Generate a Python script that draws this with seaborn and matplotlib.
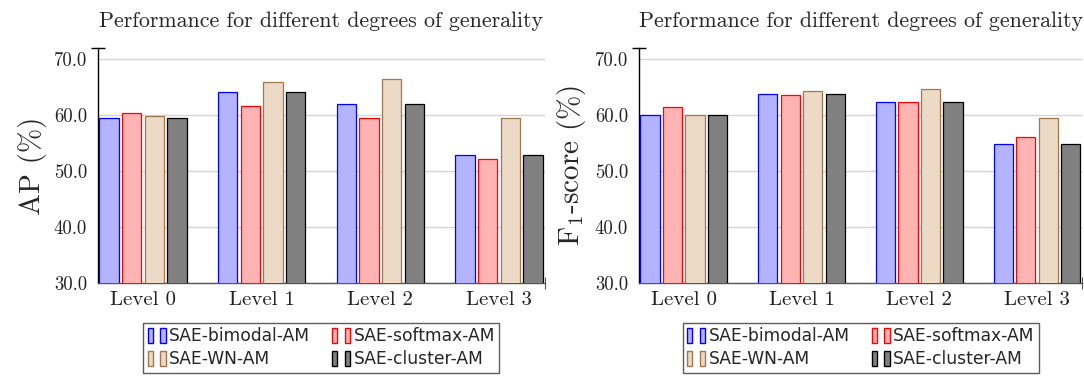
import matplotlib
matplotlib.use("Agg")
import matplotlib.pyplot as plt
import seaborn as sns
import pandas as pd
from matplotlib.patches import Patch
from matplotlib.legend_handler import HandlerTuple

levels = ["Level 0", "Level 1", "Level 2", "Level 3"]
methods = ["SAE-bimodal-AM", "SAE-softmax-AM", "SAE-WN-AM", "SAE-cluster-AM"]
ap_bimodal = [59.5, 64.0, 62.0, 52.9]
ap_softmax = [60.3, 61.5, 59.5, 52.1]
ap_wn = [59.8, 65.8, 66.4, 59.5]
ap_cluster = [59.5, 64.0, 62.0, 52.9]
f1_bimodal = [59.9, 63.7, 62.3, 54.8]
f1_softmax = [61.3, 63.5, 62.3, 56.0]
f1_wn = [59.9, 64.3, 64.6, 59.4]
f1_cluster = [59.9, 63.7, 62.3, 54.8]
yticks = [30, 40, 50, 60, 70]
title = "Performance for different degrees of generality"

fills = ["#b3b3ff", "#ffb3b3", "#ecd9c6", "#808080"]
edges = ["#0000ff", "#ff0000", "#a07850", "#000000"]

sns.set_theme(style="white")
plt.rcParams["font.family"] = ["cmr10", "DejaVu Serif"]
plt.rcParams["mathtext.fontset"] = "cm"
plt.rcParams["axes.formatter.use_mathtext"] = True


def make_df(series):
    rows = []
    for m, vals in zip(methods, series):
        for lv, v in zip(levels, vals):
            rows.append({"level": lv, "method": m, "value": v})
    return pd.DataFrame(rows)


fig = plt.figure(figsize=(10.84, 3.76), dpi=100)
ax1 = fig.add_axes([0.0904, 0.248, 0.412, 0.6235])
ax2 = fig.add_axes([0.5895, 0.248, 0.409, 0.6235])

panels = [
    (ax1, make_df([ap_bimodal, ap_softmax, ap_wn, ap_cluster]), "AP (%)"),
    (ax2, make_df([f1_bimodal, f1_softmax, f1_wn, f1_cluster]), r"F$_1$-score (%)"),
]

# legend order: row-major in the reference (2 columns)
leg_order = [0, 2, 1, 3]

for ax, df, ylab in panels:
    sns.barplot(data=df, x="level", y="value", hue="method", hue_order=methods,
                order=levels, palette=fills, saturation=1, width=0.765, gap=0.147,
                linewidth=0.9, legend=False, ax=ax, zorder=3)
    for cont, ec in zip(ax.containers, edges):
        for bar in cont:
            bar.set_edgecolor(ec)
    ax.set_ylim(30, 71.86)
    ax.set_xlim(-0.38, 3.385)
    ax.set_yticks(yticks)
    ax.set_yticklabels([f"{t:.1f}" for t in yticks])
    ax.yaxis.grid(True, color="#d6d6d6", linewidth=1.0, zorder=0)
    ax.set_axisbelow(True)
    for s in ["top", "right"]:
        ax.spines[s].set_visible(False)
    ax.spines["left"].set_color("black")
    ax.spines["left"].set_linewidth(1.0)
    ax.spines["bottom"].set_color("#555555")
    ax.spines["bottom"].set_linewidth(1.0)
    ax.tick_params(axis="y", length=3, direction="in", width=0.8, color="#333333",
                   pad=8, labelsize=13.5, labelcolor="#222222")
    ax.tick_params(axis="x", length=6, direction="inout", color="#777777",
                   width=0.8, pad=3, labelsize=15, labelcolor="#222222")
    ax.set_xlabel("")
    ax.set_ylabel(ylab, fontsize=21, labelpad=5)
    ax.set_title(title, fontsize=15.8, pad=15)
    # axis end caps
    ax.plot([0], [1], marker="_", markersize=10, color="black", mew=1.0,
            transform=ax.transAxes, clip_on=False, zorder=5)
    ax.plot([1], [0], marker="|", markersize=8, color="#555555", mew=0.8,
            transform=ax.transAxes, clip_on=False, zorder=5)

    handles = [(Patch(facecolor=fills[i], edgecolor=edges[i], lw=1.0),
                Patch(facecolor=fills[i], edgecolor=edges[i], lw=1.0)) for i in leg_order]
    labels = [methods[i] for i in leg_order]
    leg = ax.legend(handles, labels, loc="upper center", bbox_to_anchor=(0.5, -0.172),
                    borderaxespad=0, ncol=2, frameon=True, fancybox=False,
                    handler_map={tuple: HandlerTuple(ndivide=None, pad=0.45)},
                    handlelength=1.05, handleheight=1.0, handletextpad=0.2,
                    columnspacing=1.3, labelspacing=0.3, borderpad=0.25,
                    prop={"family": "DejaVu Sans", "size": 12.3})
    leg.get_frame().set_edgecolor("#333333")
    leg.get_frame().set_linewidth(1.0)

fig.savefig("out.png", dpi=100)
